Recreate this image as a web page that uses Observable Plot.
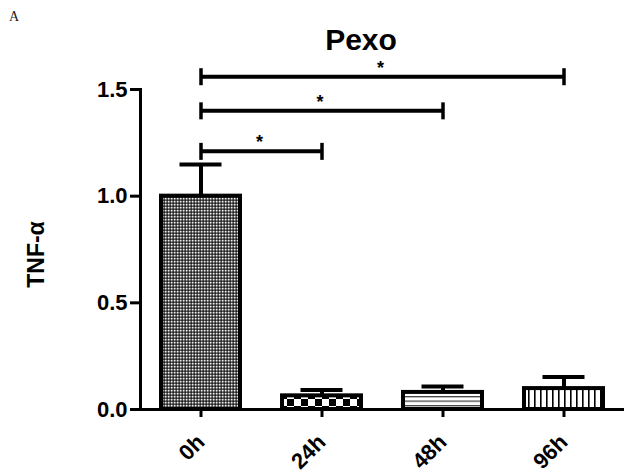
<!DOCTYPE html>
<html>
<head>
<meta charset="utf-8">
<script src="https://cdn.jsdelivr.net/npm/d3@7"></script>
<script src="https://cdn.jsdelivr.net/npm/@observablehq/plot@0.6"></script>
<style>
  html, body { margin: 0; padding: 0; background: #fff; }
  #wrap { position: relative; width: 624px; height: 474px; overflow: hidden; }
  #panel { position: absolute; left: 9px; top: 10px; font: 14px "Liberation Serif", "DejaVu Serif", serif; line-height: 14px; color: #222; }
  #title { position: absolute; left: 361px; top: 25px; transform: translateX(-50%); font: bold 30px "Liberation Sans", Arial, sans-serif; line-height: 30px; color: #000; white-space: nowrap; }
  #chart { position: absolute; left: 0; top: 0; }
</style>
</head>
<body>
<div id="wrap">
  <div id="chart"></div>
  <div id="panel">A</div>
  <div id="title">Pexo</div>
</div>
<script>
// ---- data ----
const categories = ["0h", "24h", "48h", "96h"];
const means = [1.0, 0.064, 0.08, 0.098];
const sems = [0.149, 0.027, 0.028, 0.054];
const patternIds = ["pat0h", "pat24h", "pat48h", "pat96h"];
const compareFrom = "0h";
const compareTo = ["24h", "48h", "96h"];
const bracketLevels = [1.21, 1.40, 1.56];
const sigLabels = ["*", "*", "*"];
const yTicks = [0, 0.5, 1.0, 1.5];
const yLabel = "TNF-α";

// ---- layout ----
const W = 624, H = 474;
const mL = 140, mR = 0, mT = 89, mB = 65;
const padInner = 0.347;
const step = (W - mL - mR) / categories.length;

const bars = categories.map((c, i) => ({cat: c, mean: means[i], top: means[i] + sems[i], fill: `url(#${patternIds[i]})`}));
const brackets = compareTo.map((t, i) => ({from: compareFrom, to: t, level: bracketLevels[i], label: sigLabels[i], k: categories.indexOf(t) - categories.indexOf(compareFrom)}));
const bracketEnds = brackets.flatMap(b => [{x: b.from, y: b.level}, {x: b.to, y: b.level}]);

const vbar = { draw(ctx, size) { ctx.moveTo(0, -8.5); ctx.lineTo(0, 8.5); } };

const plot = Plot.plot({
  width: W, height: H,
  marginLeft: mL, marginRight: mR, marginTop: mT, marginBottom: mB,
  style: { fontFamily: "'Liberation Sans', Arial, sans-serif", fontWeight: "bold", fontSize: "22px", color: "#000", background: "transparent" },
  x: { domain: categories, paddingInner: padInner, paddingOuter: padInner / 2, label: null },
  y: { domain: [0, 1.5], label: null },
  color: { type: "identity" },
  marks: [
    Plot.barY(bars, { x: "cat", y: "mean", fill: "fill", stroke: "#000", strokeWidth: 4 }),
    Plot.ruleX(bars, { x: "cat", y1: "mean", y2: "top", stroke: "#000", strokeWidth: 4 }),
    Plot.tickY(bars, { x: "cat", y: "top", stroke: "#000", strokeWidth: 4, insetLeft: 18.5, insetRight: 18.5 }),
    Plot.link(brackets, { x1: "from", x2: "to", y1: "level", y2: "level", stroke: "#000", strokeWidth: 4 }),
    Plot.dot(bracketEnds, { x: "x", y: "y", symbol: vbar, r: 5, fill: "none", stroke: "#000", strokeWidth: 3.5 }),
    ...brackets.map(b => Plot.text([b], { x: "from", y: "level", text: "label", dx: b.k * step / 2 - 2, dy: -3, lineAnchor: "bottom", fontSize: 18, fontWeight: "bold", fill: "#000" })),
    Plot.frame({ anchor: "left", stroke: "#000", strokeWidth: 3 }),
    Plot.frame({ anchor: "bottom", stroke: "#000", strokeWidth: 3 }),
    Plot.axisY({ ticks: yTicks, tickFormat: d3.format(".1f"), tickSize: 10, tickPadding: 3, strokeWidth: 3, label: null, fontSize: 22 }),
    Plot.axisX({ tickSize: 8, tickPadding: 21, tickRotate: -45, strokeWidth: 3, label: null, fontSize: 22 }),
    Plot.text([yLabel], { frameAnchor: "left", text: d => d, rotate: -90, textAnchor: "middle", dx: -104, dy: 5, fontSize: 23, fontWeight: "bold", fill: "#000" })
  ]
});

// pattern fills
const svg = d3.select(plot);
const defs = svg.insert("defs", ":first-child");
const p0 = defs.append("pattern").attr("id", "pat0h").attr("patternUnits", "userSpaceOnUse").attr("width", 3).attr("height", 3);
p0.append("rect").attr("width", 3).attr("height", 3).attr("fill", "#5a5a5a");
p0.append("rect").attr("x", 0).attr("y", 0).attr("width", 1.4).attr("height", 1.4).attr("fill", "#eeeeee");
p0.append("rect").attr("x", 1.5).attr("y", 1.5).attr("width", 1.4).attr("height", 1.4).attr("fill", "#111111");
const p1 = defs.append("pattern").attr("id", "pat24h").attr("patternUnits", "userSpaceOnUse").attr("width", 14).attr("height", 14);
p1.append("rect").attr("width", 14).attr("height", 14).attr("fill", "#fff");
p1.append("rect").attr("width", 7).attr("height", 7).attr("fill", "#000");
p1.append("rect").attr("x", 7).attr("y", 7).attr("width", 7).attr("height", 7).attr("fill", "#000");
const p2 = defs.append("pattern").attr("id", "pat48h").attr("patternUnits", "userSpaceOnUse").attr("width", 4).attr("height", 4.5);
p2.append("rect").attr("width", 4).attr("height", 4.5).attr("fill", "#fff");
p2.append("rect").attr("width", 4).attr("height", 1.3).attr("fill", "#444");
const p3 = defs.append("pattern").attr("id", "pat96h").attr("patternUnits", "userSpaceOnUse").attr("width", 6).attr("height", 4);
p3.append("rect").attr("width", 6).attr("height", 4).attr("fill", "#fff");
p3.append("rect").attr("width", 1.6).attr("height", 4).attr("fill", "#000");

document.getElementById("chart").appendChild(plot);
</script>
</body>
</html>
